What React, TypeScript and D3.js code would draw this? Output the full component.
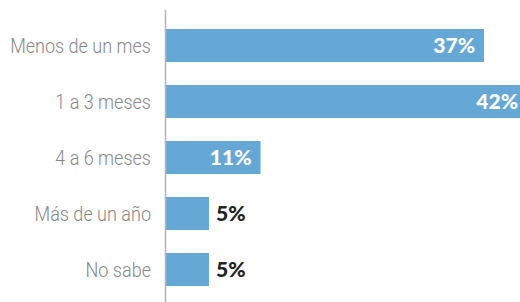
import { useEffect, useRef } from 'react';
import * as d3 from 'd3';

const CATEGORIES = ['Menos de un mes', '1 a 3 meses', '4 a 6 meses', 'Más de un año', 'No sabe'];
const VALUES = [37, 42, 11, 5, 5];

const WIDTH = 520;
const HEIGHT = 302;
const AXIS_X = 166;
const BAR_COLOR = '#65a8d6';
const INSIDE_MIN = 8;
// the reference uses a condensed face; squeeze Roboto Light to match
const LABEL_SQUEEZE = 0.88;

export default function App() {
  const ref = useRef<SVGSVGElement | null>(null);

  useEffect(() => {
    if (!ref.current) return;
    const svg = d3.select(ref.current);
    svg.selectAll('*').remove();

    const y = d3
      .scaleBand<string>()
      .domain(CATEGORIES)
      .range([17.5, 297.5])
      .paddingInner(0.41)
      .paddingOuter(0.205);
    const x = d3.scaleLinear().domain([0, 42]).range([AXIS_X, AXIS_X + 361]);

    const rows = CATEGORIES.map((c, i) => ({ cat: c, value: VALUES[i] }));

    svg
      .append('g')
      .selectAll('rect')
      .data(rows)
      .join('rect')
      .attr('x', x(0))
      .attr('y', (d) => y(d.cat)!)
      .attr('width', (d) => x(d.value) - x(0))
      .attr('height', y.bandwidth())
      .attr('fill', BAR_COLOR);

    svg
      .append('line')
      .attr('x1', AXIS_X - 0.5)
      .attr('x2', AXIS_X - 0.5)
      .attr('y1', 10)
      .attr('y2', HEIGHT)
      .attr('stroke', '#b5b5b5')
      .attr('stroke-width', 1.5);

    svg
      .append('g')
      .selectAll('text')
      .data(rows)
      .join('text')
      .attr(
        'transform',
        (d) => `translate(${AXIS_X - 15},${y(d.cat)! + y.bandwidth() / 2}) scale(${LABEL_SQUEEZE},1)`
      )
      .attr('dy', '0.35em')
      .attr('text-anchor', 'end')
      .style('font-family', 'Roboto, sans-serif')
      .style('font-weight', 300)
      .style('font-size', '20.5px')
      .attr('fill', '#878787')
      .text((d) => d.cat);

    svg
      .append('g')
      .selectAll('text')
      .data(rows)
      .join('text')
      .attr('x', (d) => (d.value > INSIDE_MIN ? x(d.value) - 9 : x(d.value) + 7))
      .attr('y', (d) => y(d.cat)! + y.bandwidth() / 2)
      .attr('dy', '0.35em')
      .attr('text-anchor', (d) => (d.value > INSIDE_MIN ? 'end' : 'start'))
      .style('font-family', 'Lato, sans-serif')
      .style('font-weight', 900)
      .style('font-size', '21px')
      .attr('fill', (d) => (d.value > INSIDE_MIN ? '#ffffff' : '#222222'))
      .text((d) => `${d.value}%`);
  }, []);

  return (
    <svg
      ref={ref}
      width={WIDTH}
      height={HEIGHT}
      style={{ position: 'absolute', left: 0, top: 0, background: '#fff' }}
    />
  );
}
